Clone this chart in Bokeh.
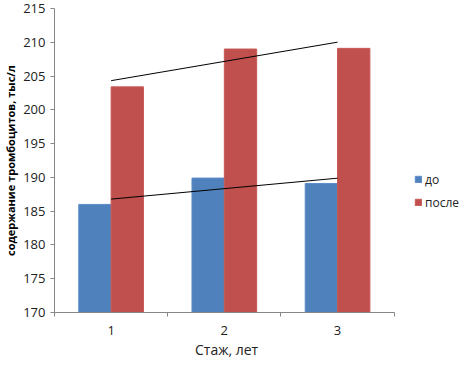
import numpy as np
from bokeh.plotting import figure
from bokeh.models import (ColumnDataSource, FixedTicker, Range1d, Legend, LegendItem, Title)
from bokeh.transform import dodge
from bokeh.embed import file_html
from bokeh.resources import INLINE

# ---- data ----
categories = ["1", "2", "3"]
x_pos = [1, 2, 3]
before = [186.0, 189.9, 189.1]   # до
after = [203.4, 209.0, 209.1]    # после
y_ticks = [170, 175, 180, 185, 190, 195, 200, 205, 210, 215]
series_names = ["до", "после"]
x_title = "Стаж, лет"
y_title = "содержание тромбоцитов, тыс/л"

BLUE = "#4F81BD"
RED = "#C0504D"
AXIS = "#868686"
FONT = "Open Sans"

# layout (pixels)
W, H = 461, 358
LEFT, TOP, BOTTOM = 50, 8, 44
AXIS_PX = 343            # width of the category area
FRAME_PX = W - LEFT      # frame extends to the right edge to host the legend

x_lo, x_hi = x_pos[0] - 0.5, x_pos[-1] + 0.5
x_end = x_lo + (x_hi - x_lo) * FRAME_PX / AXIS_PX

src = ColumnDataSource(dict(x=x_pos, before=before, after=after,
                            base=[y_ticks[0]] * len(x_pos)))

p = figure(width=W, height=H, output_backend="svg", toolbar_location=None,
           x_range=Range1d(x_lo, x_end), y_range=Range1d(y_ticks[0], y_ticks[-1]),
           min_border_left=LEFT, min_border_right=0, min_border_top=TOP,
           min_border_bottom=BOTTOM)
p.outline_line_color = None
p.xgrid.grid_line_color = None
p.ygrid.grid_line_color = None
p.background_fill_color = "white"

bw = 0.2857
r1 = p.vbar(x=dodge("x", -bw / 2, range=p.x_range), top="before", bottom="base",
            width=bw, source=src, fill_color=BLUE, line_color="#5B8CC8", line_width=1)
r2 = p.vbar(x=dodge("x", bw / 2, range=p.x_range), top="after", bottom="base",
            width=bw, source=src, fill_color=RED, line_color="#C75A57", line_width=1)

# linear trendlines computed from the data
xs = np.array(x_pos, dtype=float)
for vals in (before, after):
    k, b = np.polyfit(xs, np.array(vals), 1)
    p.line([xs[0], xs[-1]], [k * xs[0] + b, k * xs[-1] + b], line_color="black", line_width=1)

# axes
p.yaxis.ticker = FixedTicker(ticks=y_ticks)
p.yaxis.axis_line_color = AXIS
p.yaxis.major_tick_line_color = AXIS
p.yaxis.major_tick_out = 4
p.yaxis.major_tick_in = 0
p.yaxis.minor_tick_line_color = None
p.yaxis.major_label_text_font = FONT
p.yaxis.major_label_text_font_size = "13px"
p.yaxis.major_label_text_color = "#222222"
p.yaxis.major_label_standoff = 5
p.yaxis.axis_label = y_title
p.yaxis.axis_label_text_font = FONT
p.yaxis.axis_label_text_font_size = "11px"
p.yaxis.axis_label_text_font_style = "bold"
p.yaxis.axis_label_text_color = "black"
p.yaxis.axis_label_standoff = 2

p.xaxis.bounds = (x_lo, x_hi)
p.xaxis.ticker = FixedTicker(ticks=x_pos, minor_ticks=[x_lo + i for i in range(len(x_pos) + 1)])
p.xaxis.major_label_overrides = {xp: c for xp, c in zip(x_pos, categories)}
p.xaxis.axis_line_color = AXIS
p.xaxis.major_tick_line_color = None
p.xaxis.major_tick_out = 0
p.xaxis.major_tick_in = 0
p.xaxis.minor_tick_line_color = AXIS
p.xaxis.minor_tick_out = 4
p.xaxis.minor_tick_in = 0
p.xaxis.major_label_text_font = FONT
p.xaxis.major_label_text_font_size = "13px"
p.xaxis.major_label_text_color = "#222222"
p.xaxis.major_label_standoff = 9

# x-axis title centred under the category area (not the whole frame)
TITLE_W = 62
p.add_layout(Title(text=x_title, align="left", offset=AXIS_PX / 2 - TITLE_W / 2,
                   text_font=FONT, text_font_size="14px", text_font_style="normal",
                   text_color="#222222", standoff=0), "below")

legend = Legend(items=[LegendItem(label=series_names[0], renderers=[r1]),
                       LegendItem(label=series_names[1], renderers=[r2])],
                location=(360, 100), orientation="vertical",
                glyph_width=8, glyph_height=8, label_standoff=3,
                label_text_font=FONT, label_text_font_size="12px",
                label_text_color="#222222", label_height=20, spacing=3,
                padding=0, margin=0, border_line_color=None,
                background_fill_alpha=0)
p.add_layout(legend, "center")

open("out.html", "w").write(file_html(p, INLINE))
